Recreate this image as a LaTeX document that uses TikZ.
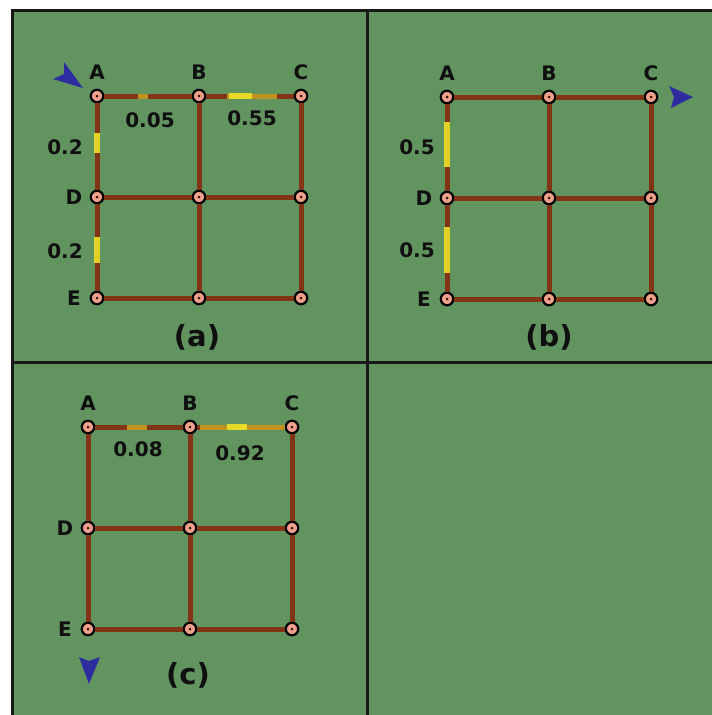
\documentclass[tikz,border=0pt]{standalone}
\usepackage{fontspec}
\setmainfont{DejaVu Sans}
\definecolor{bg}{RGB}{98,148,96}
\definecolor{edgebrown}{RGB}{132,52,22}
\definecolor{nodefill}{RGB}{240,160,140}
\definecolor{markyellow}{RGB}{238,225,40}
\definecolor{arrowblue}{RGB}{45,45,160}
\definecolor{ink}{RGB}{15,15,15}
\tikzset{
  gnode/.style={circle, draw=black, line width=2.2, fill=nodefill, minimum size=12.5, inner sep=0pt,
    path picture={\fill[black!60!edgebrown] (path picture bounding box.center) circle (1.5);}},
  edgeline/.style={draw=edgebrown, line width=5},
  hl/.style={draw=markyellow, line width=6, opacity=0.9},
  hlfaint/.style={draw=markyellow, line width=5, opacity=0.55},
  lab/.style={text=ink, font=\fontsize{20}{22}\selectfont\bfseries, inner sep=0pt},
  captext/.style={text=ink, font=\fontsize{29}{31}\selectfont\bfseries, inner sep=0pt},
  tri/.style={fill=arrowblue},
  divider/.style={draw=black!90, line width=3},
}
\newcommand\gridnodes[1]{%
  \node[gnode] (#1A) at (0,0) {};
  \node[gnode] (#1B) at (102,0) {};
  \node[gnode] (#1C) at (204,0) {};
  \node[gnode] (#1D) at (0,101) {};
  \node[gnode] (#1M) at (102,101) {};
  \node[gnode] (#1F) at (204,101) {};
  \node[gnode] (#1E) at (0,202) {};
  \node[gnode] (#1G) at (102,202) {};
  \node[gnode] (#1H) at (204,202) {};
  \draw[edgeline] (#1A) -- (#1B);
  \draw[edgeline] (#1B) -- (#1C);
  \draw[edgeline] (#1D) -- (#1M);
  \draw[edgeline] (#1M) -- (#1F);
  \draw[edgeline] (#1E) -- (#1G);
  \draw[edgeline] (#1G) -- (#1H);
  \draw[edgeline] (#1A) -- (#1D);
  \draw[edgeline] (#1D) -- (#1E);
  \draw[edgeline] (#1B) -- (#1M);
  \draw[edgeline] (#1M) -- (#1G);
  \draw[edgeline] (#1C) -- (#1F);
  \draw[edgeline] (#1F) -- (#1H);
  \node[lab] (#1lA) at (0,-24) {A};
  \node[lab] (#1lB) at (102,-24) {B};
  \node[lab] (#1lC) at (204,-24) {C};
  \node[lab] (#1lD) at (-23,101) {D};
  \node[lab] (#1lE) at (-23,202) {E};
}
\begin{document}
\begin{tikzpicture}[x=1pt,y=-1pt]
  \useasboundingbox (0,0) rectangle (712,715);
  \fill[white] (0,0) rectangle (712,715);
  \fill[bg] (12,10) rectangle (712,715);
  \draw[divider] (11,10.5) -- (712,10.5);
  \draw[divider] (12.5,9) -- (12.5,715);
  \draw[divider] (367,10) -- (367,715);
  \draw[divider] (12,362) -- (712,362);

  % ---------- panel (a)
  \begin{scope}[shift={(97,96)}]
    \gridnodes{a}
    \draw[hlfaint] (41,0) -- (51,0);
    \draw[hlfaint] (130,0) -- (180,0);
    \draw[hl] (132,0) -- (155,0);
    \draw[hl] (0,37) -- (0,57);
    \draw[hl] (0,141) -- (0,167);
    \node[lab] (an1) at (53,24) {0.05};
    \node[lab] (an2) at (155,22) {0.55};
    \node[lab] (an3) at (-32,51) {0.2};
    \node[lab] (an4) at (-32,155) {0.2};
    \node[captext] (acap) at (100,241) {(a)};
  \end{scope}
  \fill[tri] (83,88) -- (64,62) -- (64,74) -- (53,79) -- cycle;

  % ---------- panel (b)
  \begin{scope}[shift={(447,97)}]
    \gridnodes{b}
    \draw[hl] (0,25) -- (0,70);
    \draw[hl] (0,130) -- (0,176);
    \node[lab] (bn1) at (-30,50) {0.5};
    \node[lab] (bn2) at (-30,153) {0.5};
    \node[captext] (bcap) at (102,240) {(b)};
  \end{scope}
  \fill[tri] (693,97) -- (669,86) -- (674,97) -- (671,108) -- cycle;

  % ---------- panel (c)
  \begin{scope}[shift={(88,427)}]
    \gridnodes{c}
    \draw[hlfaint] (39,0) -- (59,0);
    \draw[hlfaint] (112,0) -- (197,0);
    \draw[hl] (139,0) -- (159,0);
    \node[lab] (cn1) at (50,22) {0.08};
    \node[lab] (cn2) at (152,26) {0.92};
    \node[captext] (ccap) at (100,248) {(c)};
  \end{scope}
  \fill[tri] (89,684) -- (79,657) -- (89,661) -- (100,657) -- cycle;
\end{tikzpicture}
\end{document}
